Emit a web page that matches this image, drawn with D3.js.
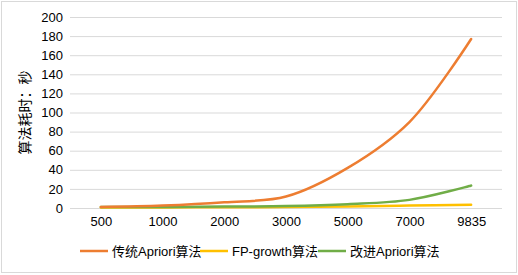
<!DOCTYPE html>
<html>
<head>
<meta charset="utf-8">
<script src="https://cdn.jsdelivr.net/npm/d3@7"></script>
<style>
  body { margin: 0; background: #fff; }
  svg { font-family: "Liberation Sans", Arial, "Noto Sans CJK SC", sans-serif; }
</style>
</head>
<body>
<div id="chart"></div>
<script>
// chart data
const categories = ["500", "1000", "2000", "3000", "5000", "7000", "9835"];
const seriesNames = ["传统Apriori算法", "FP-growth算法", "改进Apriori算法"];
const apriori = [1, 2.5, 6, 12, 42, 90, 177];
const fpGrowth = [0.5, 0.6, 0.8, 1, 1.5, 2.5, 3.5];
const improved = [1, 1, 1.5, 2, 4, 8.5, 23.5];
const yTicks = [0, 20, 40, 60, 80, 100, 120, 140, 160, 180, 200];
const colors = ["#ED7D31", "#FFC000", "#70AD47"];

const width = 518, height = 275;
const margin = {left: 70, right: 16, top: 17, bottom: 67};

const svg = d3.select("#chart").append("svg")
  .attr("width", width)
  .attr("height", height);

// outer chart border
svg.append("rect")
  .attr("x", 1.5).attr("y", 1.5)
  .attr("width", width - 3).attr("height", height - 4)
  .attr("fill", "#fff")
  .attr("stroke", "#D9D9D9");

const x = d3.scalePoint()
  .domain(categories)
  .range([margin.left, width - margin.right])
  .padding(0.5);

const y = d3.scaleLinear()
  .domain([0, 200])
  .range([height - margin.bottom, margin.top]);

// gridlines
svg.append("g")
  .selectAll("line")
  .data(yTicks)
  .join("line")
  .attr("x1", margin.left)
  .attr("x2", width - margin.right)
  .attr("y1", d => y(d) + 0.5)
  .attr("y2", d => y(d) + 0.5)
  .attr("stroke", "#D9D9D9")
  .attr("stroke-width", 1);

// y axis labels
const yAxis = svg.append("g")
  .attr("transform", `translate(${margin.left - 7},0)`)
  .call(d3.axisLeft(y).tickValues(yTicks).tickSize(0).tickPadding(0));
yAxis.select(".domain").remove();
yAxis.selectAll("text")
  .attr("font-size", 13)
  .attr("fill", "#000")
  .style("font-family", "Liberation Sans, Arial, sans-serif");

// x axis labels
const xAxis = svg.append("g")
  .attr("transform", `translate(0,${height - margin.bottom})`)
  .call(d3.axisBottom(x).tickSize(0).tickPadding(9));
xAxis.select(".domain").remove();
xAxis.selectAll("text")
  .attr("font-size", 13)
  .attr("fill", "#000")
  .style("font-family", "Liberation Sans, Arial, sans-serif");

// y title
svg.append("text")
  .attr("transform", `translate(30,${(y(0) + y(200)) / 2}) rotate(-90)`)
  .attr("text-anchor", "middle")
  .attr("font-size", 14)
  .style("font-family", "Noto Sans CJK SC, sans-serif")
  .text("算法耗时：秒");

// lines
const line = d3.line()
  .x((d, i) => x(categories[i]))
  .y(d => y(d))
  .curve(d3.curveCatmullRom.alpha(0.5));

const allSeries = [apriori, fpGrowth, improved];
// draw in order yellow, green, orange so orange stays on top like the original
[1, 2, 0].forEach(k => {
  svg.append("path")
    .datum(allSeries[k])
    .attr("fill", "none")
    .attr("stroke", colors[k])
    .attr("stroke-width", 2.5)
    .attr("stroke-linecap", "round")
    .attr("d", line);
});

// legend
const legendX = [80, 200, 318];
const legend = svg.append("g")
  .selectAll("g")
  .data(seriesNames)
  .join("g")
  .attr("transform", (d, i) => `translate(${legendX[i]},251)`);
legend.append("line")
  .attr("x1", 0).attr("x2", 28)
  .attr("stroke", (d, i) => colors[i])
  .attr("stroke-width", 2.5);
legend.append("text")
  .attr("x", 32)
  .attr("dy", "0.35em")
  .attr("font-size", 13)
  .text(d => d);
</script>
</body>
</html>
